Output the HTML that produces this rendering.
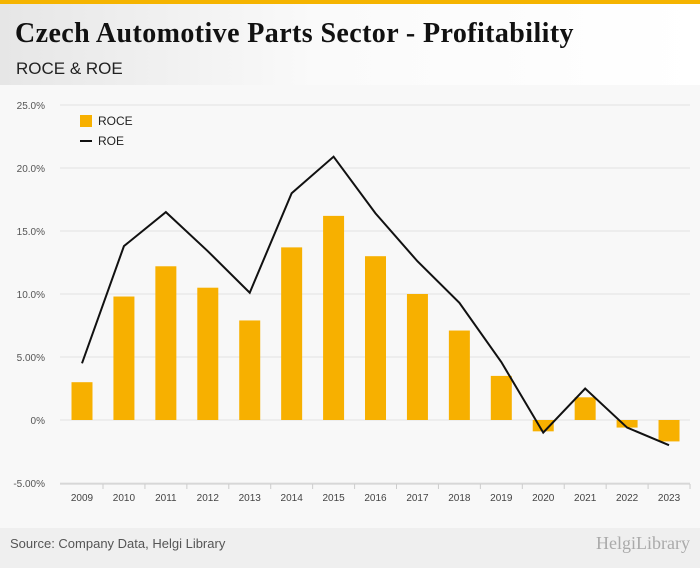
<!DOCTYPE html>
<html><head><meta charset="utf-8"><style>
body{margin:0;width:700px;height:568px;overflow:hidden;background:#f8f8f8;font-family:"Liberation Sans",sans-serif}
#hdr{position:absolute;left:0;top:0;width:700px;height:85px;background:linear-gradient(90deg,#e6e6e6 0%,#fafafa 45%,#fff 100%);border-top:4px solid #f5b400;box-sizing:border-box}
#title{position:absolute;left:15px;top:14px;font-family:"Liberation Serif",serif;font-weight:bold;font-size:28px;letter-spacing:0.4px;color:#111}
#sub{position:absolute;left:16px;top:55px;font-size:17px;color:#222}
#foot{position:absolute;left:0;top:528px;width:700px;height:40px;background:#efefef}
#src{position:absolute;left:10px;top:536px;font-size:13px;color:#555}
#logo{position:absolute;right:10px;top:533px;font-size:18px;color:#aaa;font-family:"Liberation Serif",serif}
svg{position:absolute;left:0;top:85px}
</style></head><body>
<div id="hdr"><div id="title">Czech Automotive Parts Sector - Profitability</div><div id="sub">ROCE &amp; ROE</div></div>
<svg id="c" width="700" height="443"></svg>
<div id="foot"></div>
<div id="src">Source: Company Data, Helgi Library</div>
<div id="logo">HelgiLibrary</div>
<script>
const years=["2009","2010","2011","2012","2013","2014","2015","2016","2017","2018","2019","2020","2021","2022","2023"];
const roce=[3.0,9.8,12.2,10.5,7.9,13.7,16.2,13.0,10.0,7.1,3.5,-0.9,1.8,-0.6,-1.7];
const roe=[4.5,13.8,16.5,13.4,10.1,18.0,20.9,16.4,12.6,9.3,4.6,-1.0,2.5,-0.6,-2.0];
const ticks=[25,20,15,10,5,0,-5];
const tickLabels=["25.0%","20.0%","15.0%","10.0%","5.00%","0%","-5.00%"];
const svg=document.getElementById('c');const NS="http://www.w3.org/2000/svg";
const y=v=>335-v*12.6;
const x=i=>82+i*41.93;
function mk(t,a){const e=document.createElementNS(NS,t);for(const k in a)e.setAttribute(k,a[k]);svg.appendChild(e);return e;}
ticks.forEach((t,i)=>{
 const g=mk('line',{x1:60,x2:690,y1:y(t),y2:y(t),stroke:'#e2e2e2','stroke-width':1});
 
 const l=mk('text',{x:45,y:y(t)+4,'text-anchor':'end','font-size':10,fill:'#555'});l.textContent=tickLabels[i];
 
});
const ax=mk('line',{x1:60,x2:690,y1:y(-5)+1,y2:y(-5)+1,stroke:'#ccc'});

years.forEach((yr,i)=>{
 const v=roce[i];const b=mk('rect',{x:x(i)-10.5,width:21,y:Math.min(y(v),y(0)),height:Math.abs(y(v)-y(0)),fill:'#f7b000'});
 
 const t=mk('text',{x:x(i),y:y(-5)+18,'text-anchor':'middle','font-size':10,fill:'#444'});t.textContent=yr;
 
 const tk=mk('line',{x1:x(i)+21,x2:x(i)+21,y1:y(-5)+1,y2:y(-5)+6,stroke:'#ccc'});
 
});
const p=mk('polyline',{points:roe.map((v,i)=>x(i)+','+y(v)).join(' '),fill:'none',stroke:'#111','stroke-width':2});

const lr=mk('rect',{x:80,y:30,width:12,height:12,fill:'#f7b000'});

const lt=mk('text',{x:98,y:40,'font-size':12,fill:'#222'});lt.textContent='ROCE';

const ll=mk('line',{x1:80,x2:92,y1:56,y2:56,stroke:'#111','stroke-width':2});

const lt2=mk('text',{x:98,y:60,'font-size':12,fill:'#222'});lt2.textContent='ROE';

</script>
</body></html>
